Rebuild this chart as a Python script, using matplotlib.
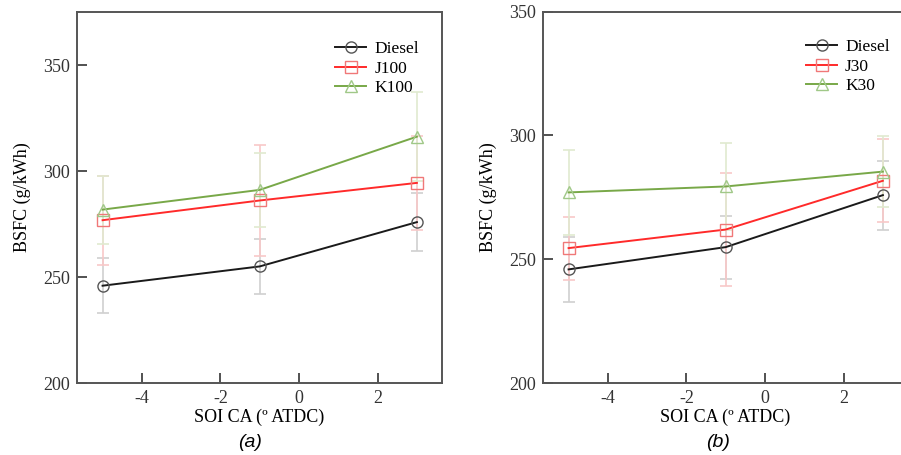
import matplotlib
matplotlib.use("Agg")
import matplotlib.pyplot as plt

plt.rcParams['font.family'] = ['Liberation Serif', 'DejaVu Serif']
plt.rcParams['axes.unicode_minus'] = False

soi = [-5, -1, 3]

# panel (a)
diesel_a = [245.9, 255.0, 275.9]
diesel_a_err = [13.0, 12.9, 13.7]
j100 = [276.8, 286.1, 294.4]
j100_err = [21.0, 26.0, 22.0]
k100 = [281.8, 291.1, 316.2]
k100_err = [16.0, 17.3, 21.0]

# panel (b)
diesel_b = [245.9, 254.9, 275.9]
diesel_b_err = [13.0, 12.7, 13.9]
j30 = [254.5, 262.0, 281.7]
j30_err = [12.7, 23.0, 16.8]
k30 = [277.0, 279.4, 285.4]
k30_err = [17.2, 17.7, 14.2]

line_cols = ['#1a1a1a', '#ff2a2a', '#78a848']
mark_cols = ['#555555', '#f07878', '#a0c888']
err_cols = ['#d0d0d0', '#f8c8c8', '#e0ead0']
markers = ['o', 's', '^']

fig = plt.figure(figsize=(9.01, 4.55), dpi=100)
ax_a = fig.add_axes([0.0855, 0.1582, 0.4051, 0.8154])
ax_b = fig.add_axes([0.6027, 0.1582, 0.4051, 0.8161])


def draw(ax, series, names, ylim, yticks, leg_xy):
    for i, (vals, errs) in enumerate(series):
        ax.errorbar(soi, vals, yerr=errs, fmt='none', ecolor=err_cols[i],
                    elinewidth=1.2, capsize=4, capthick=1.2, zorder=1)
    for i, (vals, errs) in enumerate(series):
        ax.plot(soi, vals, color=line_cols[i], lw=1.4, marker=markers[i],
                markersize=8, markerfacecolor='none', markeredgecolor=mark_cols[i],
                markeredgewidth=1.0, label=names[i], zorder=3)
    ax.set_xlim(-5.65, 3.64)
    ax.set_ylim(*ylim)
    ax.set_xticks([-4, -2, 0, 2])
    ax.set_yticks(yticks)
    ax.tick_params(direction='in', length=7, width=1.2, colors='#333333',
                   labelsize=13, pad=5)
    for sp in ax.spines.values():
        sp.set_color('#555555')
        sp.set_linewidth(1.4)
    ax.set_xlabel('SOI CA (º ATDC)', fontsize=13, labelpad=1)
    ax.set_ylabel('BSFC (g/kWh)', fontsize=13, labelpad=9)
    ax.legend(loc='upper left', bbox_to_anchor=leg_xy, frameon=False,
              fontsize=12.5, handlelength=1.8, handletextpad=0.45,
              labelspacing=0.2, borderaxespad=0, borderpad=0)


draw(ax_a, [(diesel_a, diesel_a_err), (j100, j100_err), (k100, k100_err)],
     ['Diesel', 'J100', 'K100'], (200, 375), [200, 250, 300, 350], (0.707, 0.922))
draw(ax_b, [(diesel_b, diesel_b_err), (j30, j30_err), (k30, k30_err)],
     ['Diesel', 'J30', 'K30'], (200, 350), [200, 250, 300, 350], (0.7205, 0.927))

fig.text(0.2775, 0.018, '(a)', fontsize=14, style='italic',
         family='Liberation Sans', ha='center')
fig.text(0.797, 0.018, '(b)', fontsize=14, style='italic',
         family='Liberation Sans', ha='center')

fig.savefig('out.png', dpi=100)
